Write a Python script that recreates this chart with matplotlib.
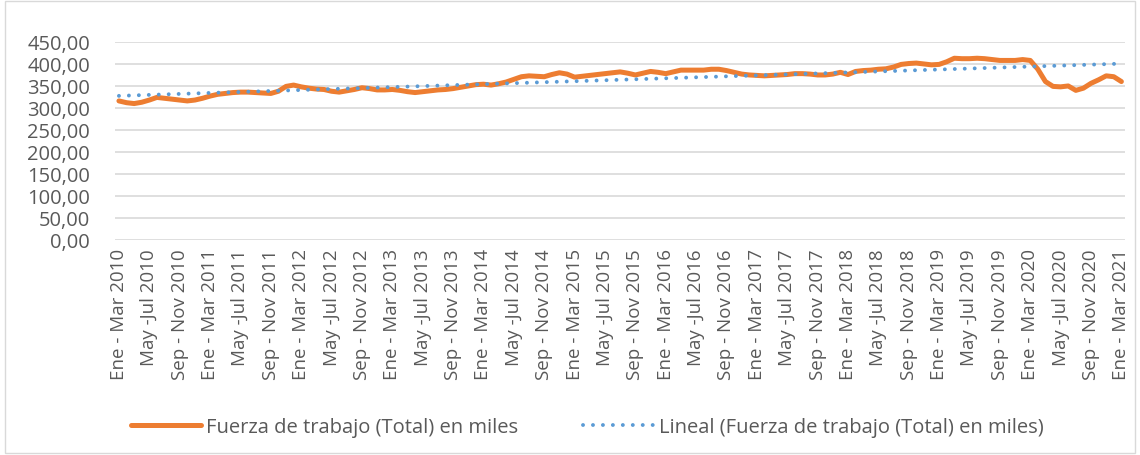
import numpy as np
import matplotlib
matplotlib.use("Agg")
import matplotlib.pyplot as plt
from matplotlib.patches import Rectangle
from matplotlib.ticker import FuncFormatter

plt.rcParams['font.family'] = ['Open Sans', 'DejaVu Sans']

# rolling quarters, Ene-Mar 2010 ... Ene-Mar 2021 (one value per month)
fuerza = [
    316, 312, 310, 313, 318, 324, 322, 320, 318, 316, 318, 322,   # 2010
    327, 331, 333, 335, 336, 336, 335, 334, 333, 338, 349, 352,   # 2011
    348, 345, 343, 342, 338, 336, 339, 342, 346, 344, 341, 341,   # 2012
    342, 340, 337, 335, 337, 339, 341, 342, 344, 347, 350, 353,   # 2013
    354, 352, 355, 359, 365, 371, 373, 372, 371, 376, 380, 377,   # 2014
    370, 372, 374, 376, 378, 380, 382, 379, 375, 379, 383, 381,   # 2015
    378, 382, 386, 386, 386, 386, 388, 388, 385, 381, 377, 375,   # 2016
    374, 373, 374, 375, 376, 378, 378, 377, 375, 375, 377, 381,   # 2017
    376, 383, 385, 386, 388, 389, 393, 399, 401, 402, 400, 398,   # 2018
    399, 405, 413, 412, 412, 413, 412, 410, 408, 408, 408, 410,   # 2019
    408, 388, 360, 349, 348, 350, 340, 345, 356, 364, 373, 371,   # 2020
    360,                                                          # 2021
]

tick_labels = []
for year in range(2010, 2021):
    tick_labels += [f"Ene - Mar {year}", f"May -Jul {year}", f"Sep - Nov {year}"]
tick_labels.append("Ene - Mar 2021")

serie_label = "Fuerza de trabajo (Total) en miles"
trend_label = "Lineal (Fuerza de trabajo (Total) en miles)"

x = np.arange(len(fuerza))
coef = np.polyfit(x, fuerza, 1)
trend = np.polyval(coef, x)

fig = plt.figure(figsize=(11.4, 4.56), dpi=100)
fig.patches.append(Rectangle((0.004, 0.004), 0.992, 0.992, transform=fig.transFigure,
                             fill=False, edgecolor='#D9D9D9', linewidth=1))
ax = fig.add_axes([0.101, 0.4715, 0.886, 0.4343])

ax.plot(x, fuerza, color='#ED7D31', linewidth=3.6, solid_capstyle='round',
        solid_joinstyle='round', label=serie_label, zorder=3)
ax.plot(x, trend, color='#5B9BD5', linewidth=2.8, linestyle=(0, (0.01, 2.55)),
        dash_capstyle='round', label=trend_label, zorder=4)

ax.set_xlim(-0.5, len(fuerza) - 0.5)
ax.set_ylim(0, 450)
ax.set_yticks(np.arange(0, 451, 50))
ax.yaxis.set_major_formatter(FuncFormatter(lambda v, p: f"{v:.2f}".replace('.', ',')))
ax.set_xticks(x[::4])
ax.set_xticklabels(tick_labels, rotation=90, fontsize=13.5, color='#595959')
ax.tick_params(axis='y', labelsize=14.5, labelcolor='#595959', length=0, pad=18)
ax.tick_params(axis='x', length=0, pad=6)
ax.grid(axis='y', color='#D9D9D9', linewidth=1.2)
ax.set_axisbelow(True)
for s in ax.spines.values():
    s.set_visible(False)

fig.legend(loc='center', bbox_to_anchor=(0.515, 0.062), ncol=2, frameon=False,
           fontsize=14.5, handlelength=3.5, columnspacing=3.2, handletextpad=0.25,
           labelcolor='#595959')

fig.savefig("out.png", dpi=100)
